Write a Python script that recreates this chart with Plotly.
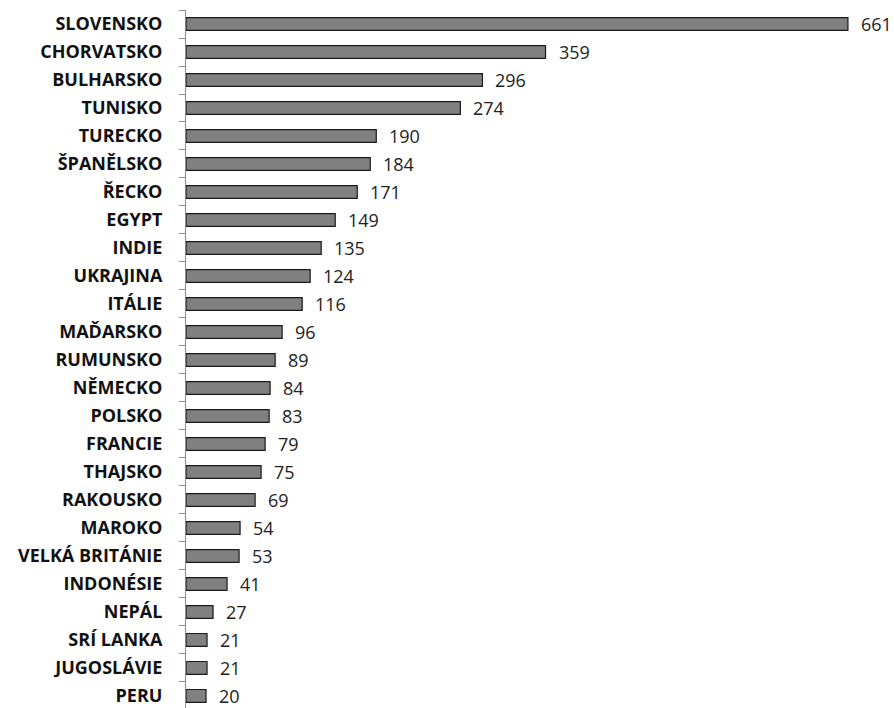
import plotly.graph_objects as go

countries = [
    "SLOVENSKO", "CHORVATSKO", "BULHARSKO", "TUNISKO", "TURECKO",
    "ŠPANĚLSKO", "ŘECKO", "EGYPT", "INDIE", "UKRAJINA", "ITÁLIE",
    "MAĎARSKO", "RUMUNSKO", "NĚMECKO", "POLSKO", "FRANCIE", "THAJSKO",
    "RAKOUSKO", "MAROKO", "VELKÁ BRITÁNIE", "INDONÉSIE", "NEPÁL",
    "SRÍ LANKA", "JUGOSLÁVIE", "PERU",
]
counts = [661, 359, 296, 274, 190, 184, 171, 149, 135, 124, 116,
          96, 89, 84, 83, 79, 75, 69, 54, 53, 41, 27, 21, 21, 20]

fig = go.Figure(
    go.Bar(
        x=counts,
        y=countries,
        orientation="h",
        width=0.46,
        marker=dict(color="#808080", line=dict(color="#1a1a1a", width=1.2)),
        hoverinfo="x+y",
    )
)

# value labels just right of each bar end
for c, v in zip(countries, counts):
    fig.add_annotation(
        x=v, y=c, text=str(v), showarrow=False,
        xanchor="left", yanchor="middle", xshift=11,
        font=dict(family="Open Sans", size=18, color="#222222"),
    )

n = len(countries)
fig.update_layout(
    width=894, height=708,
    margin=dict(l=186, r=7, t=10, b=0),
    paper_bgcolor="white", plot_bgcolor="white",
    showlegend=False,
    xaxis=dict(range=[0, 700], visible=False),
    yaxis=dict(
        type="category",
        range=[n - 0.57, -0.5],
        tickson="boundaries",
        ticks="outside", ticklen=6, tickcolor="#8c8c8c", tickwidth=1,
        showline=True, linecolor="#8c8c8c", linewidth=1,
        showgrid=False, zeroline=False,
        ticklabelstandoff=19,
        tickfont=dict(family="Open Sans", size=18, color="#111111", weight="bold"),
    ),
)

fig.write_html("out.html")
